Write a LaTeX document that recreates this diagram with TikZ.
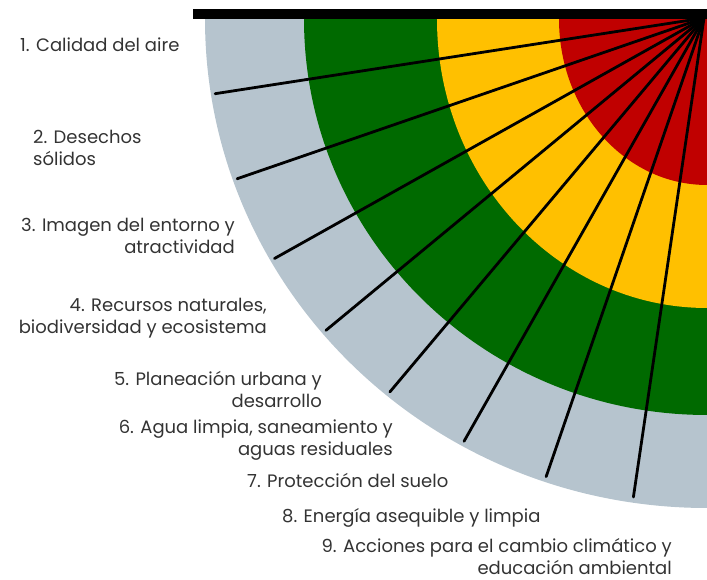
\documentclass[tikz,border=0pt]{standalone}
\usepackage{fontspec}
\setmainfont{Poppins}
\usepackage{xcolor}
\usepackage{tikz}
\usetikzlibrary{positioning,calc}

\definecolor{ringred}{HTML}{C00000}
\definecolor{ringyellow}{HTML}{FFC000}
\definecolor{ringgreen}{HTML}{006A00}
\definecolor{ringgray}{HTML}{B6C4CE}
\definecolor{itemtext}{HTML}{333333}

\begin{document}
\begin{tikzpicture}[
    x=1pt, y=1pt,
    item/.style={font=\fontsize{18}{22}\selectfont, text=itemtext, inner sep=0pt},
    spoke/.style={line width=2.8pt, black, line cap=round},
    bar/.style={fill=black}
]
\useasboundingbox (0,0) rectangle (707,580);

\coordinate (ctr) at (707,561);
\coordinate (hub) at (704,562);

% rings, outside in
\fill[ringgray] (ctr) -- ++(-502,0) arc[start angle=180, end angle=270, x radius=502, y radius=489] -- cycle;
\fill[ringgreen] (ctr) -- ++(-403,0) arc[start angle=180, end angle=270, x radius=403, y radius=396] -- cycle;
\fill[ringyellow] (ctr) -- ++(-270,0) arc[start angle=180, end angle=270, x radius=270, y radius=289] -- cycle;
\fill[ringred] (ctr) -- ++(-148,0) arc[start angle=180, end angle=270, x radius=148, y radius=166] -- cycle;

% spokes
\foreach \i [evaluate=\i as \ang using 189+10.4*(\i-1)] in {1,...,8} {
  \coordinate (s\i) at ($(hub)+(\ang:495 and 484)$);
  \draw[spoke] (hub) -- (s\i);
}

\fill[bar] (193,561) rectangle (707,571);

\node[item, anchor=west] (aire) at (20,535) {1. Calidad del aire};
\node[item, anchor=west, align=left] (desechos) at (33,432) {2. Desechos\\sólidos};
\node[item, anchor=east, align=right] (imagen) at (235,344) {3. Imagen del entorno y\\atractividad};
\node[item, anchor=east, align=right] (recursos) at (267,262) {4. Recursos naturales,\\biodiversidad y ecosistema};
\node[item, anchor=east, align=right] (planeacion) at (322,191) {5. Planeación urbana y\\desarrollo};
\node[item, anchor=east, align=right] (agua) at (393,140) {6. Agua limpia, saneamiento y\\aguas residuales};
\node[item, anchor=west] (suelo) at (247,100) {7. Protección del suelo};
\node[item, anchor=west] (energia) at (282,62) {8. Energía asequible y limpia};
\node[item, anchor=east, align=right] (clima) at (672,23) {9. Acciones para el cambio climático y\\educación ambiental};

\end{tikzpicture}
\end{document}
